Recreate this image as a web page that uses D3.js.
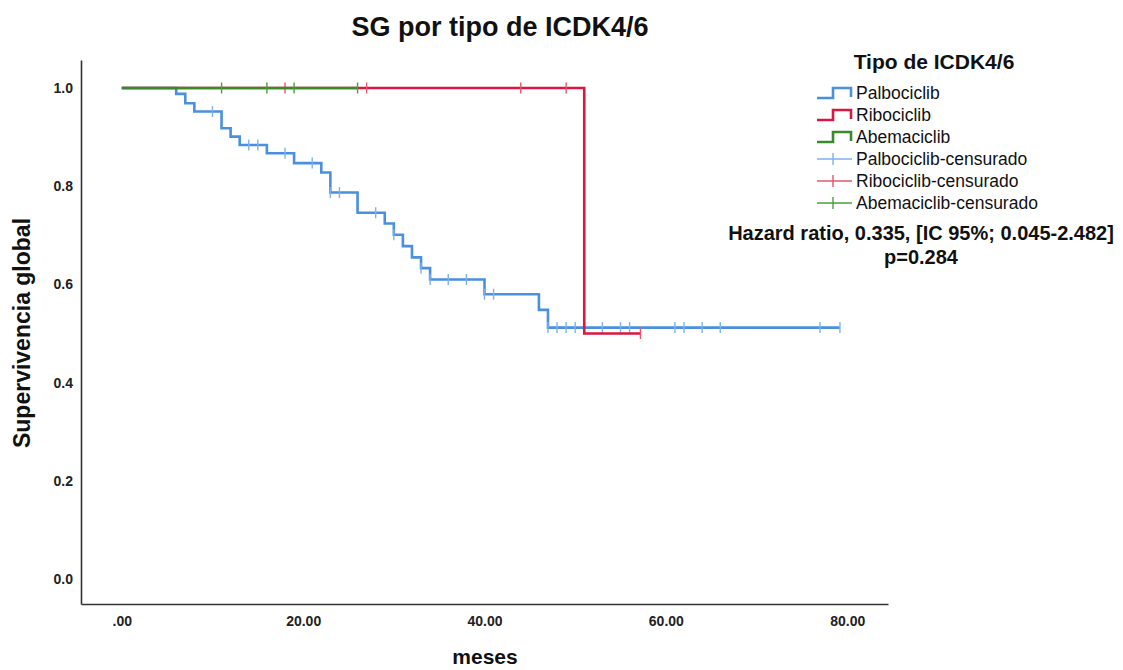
<!DOCTYPE html>
<html><head><meta charset="utf-8">
<script src="https://cdn.jsdelivr.net/npm/d3@7"></script>
<style>body{margin:0;background:#fff}svg{display:block}text{font-family:"Liberation Sans",Arial,sans-serif}</style>
</head><body>
<script>
// Step curves: times where survival drops and survival after drop
const palboTimes = [0, 6, 7, 8, 11, 12, 13, 16, 19, 22, 23, 26, 29, 30, 31, 32, 33, 34, 40, 46, 47];
const palboSurv  = [1.0, 0.988, 0.969, 0.952, 0.918, 0.901, 0.884, 0.867, 0.847, 0.828, 0.787, 0.746, 0.724, 0.701, 0.678, 0.655, 0.633, 0.610, 0.580, 0.548, 0.512];
const palboEnd = 79.2;
const palboCens = [10, 14, 15, 18, 21, 23, 24, 28, 30, 33, 34, 36, 38, 40, 41, 47, 48, 49, 50, 53, 55, 56, 61, 62, 64, 66, 77, 79.2];

const riboTimes = [0, 51];
const riboSurv  = [1.0, 0.5];
const riboEnd = 57.2;
const riboCens = [18, 27, 44, 49, 57.2];

const abemaTimes = [0];
const abemaSurv  = [1.0];
const abemaEnd = 26;
const abemaCens = [11, 16, 19, 26];

const xTicks = [0, 20, 40, 60, 80];
const yTicks = [0, 0.2, 0.4, 0.6, 0.8, 1.0];
const legendLabels = ["Palbociclib", "Ribociclib", "Abemaciclib", "Palbociclib-censurado", "Ribociclib-censurado", "Abemaciclib-censurado"];

const W = 1123, H = 670;
const svg = d3.select("body").append("svg").attr("width", W).attr("height", H);
const x = d3.scaleLinear().domain([-4.5, 84.5]).range([81, 888]);
const y = d3.scaleLinear().domain([-0.051, 1.057]).range([604, 60]);

const series = [
  {times: palboTimes, surv: palboSurv, end: palboEnd, cens: palboCens, color: "#4a8fe0", cColor: "#7fb1ee"},
  {times: riboTimes, surv: riboSurv, end: riboEnd, cens: riboCens, color: "#d9173f", cColor: "#e2566f"},
  {times: abemaTimes, surv: abemaSurv, end: abemaEnd, cens: abemaCens, color: "#3a8a2c", cColor: "#4f9c43"}
];

function survAt(s, t) {
  let v = s.surv[0];
  for (let i = 0; i < s.times.length; i++) if (s.times[i] <= t + 1e-9) v = s.surv[i];
  return v;
}

const line = d3.line().x(d => x(d[0])).y(d => y(d[1])).curve(d3.curveStepAfter);

series.forEach(s => {
  const pts = s.times.map((t, i) => [t, s.surv[i]]);
  pts.push([s.end, s.surv[s.surv.length - 1]]);
  svg.append("path").datum(pts).attr("d", line)
    .attr("fill", "none").attr("stroke", s.color).attr("stroke-width", 2.6);
  svg.append("g").selectAll("line").data(s.cens).join("line")
    .attr("x1", d => x(d)).attr("x2", d => x(d))
    .attr("y1", d => y(survAt(s, d)) - 5.5).attr("y2", d => y(survAt(s, d)) + 5.5)
    .attr("stroke", s.cColor).attr("stroke-width", 1.4);
});

// Axes
const xAxis = d3.axisBottom(x).tickValues(xTicks).tickSize(0).tickPadding(12)
  .tickFormat(d => d === 0 ? ".00" : d3.format(".2f")(d));
const gx = svg.append("g").attr("transform", "translate(0,604)").call(xAxis);
gx.select(".domain").attr("stroke", "#333").attr("stroke-width", 1.6);
gx.selectAll("text").attr("font-size", 14).attr("font-weight", "bold").attr("fill", "#222")
  .style("font-family", '"Liberation Sans", Arial, sans-serif');

const yAxis = d3.axisLeft(y).tickValues(yTicks).tickSize(0).tickPadding(8).tickFormat(d3.format(".1f"));
const gy = svg.append("g").attr("transform", "translate(81,0)").call(yAxis);
gy.select(".domain").attr("stroke", "#333").attr("stroke-width", 1.6);
gy.selectAll("text").attr("font-size", 14).attr("font-weight", "bold").attr("fill", "#222")
  .style("font-family", '"Liberation Sans", Arial, sans-serif');

// Titles
svg.append("text").attr("x", 500).attr("y", 36).attr("text-anchor", "middle")
  .attr("font-size", 27).attr("font-weight", "bold").attr("fill", "#111").text("SG por tipo de ICDK4/6");
svg.append("text").attr("x", 485).attr("y", 664).attr("text-anchor", "middle")
  .attr("font-size", 21).attr("font-weight", "bold").attr("fill", "#111").text("meses");
svg.append("text").attr("transform", "translate(30,333) rotate(-90)").attr("text-anchor", "middle")
  .attr("font-size", 23).attr("font-weight", "bold").attr("fill", "#111").text("Supervivencia global");

// Legend
svg.append("text").attr("x", 934).attr("y", 69).attr("text-anchor", "middle")
  .attr("font-size", 21).attr("font-weight", "bold").attr("fill", "#111").text("Tipo de ICDK4/6");
const lg = svg.append("g");
legendLabels.forEach((lab, i) => {
  const cy = 93 + i * 22;
  const s = series[i % 3];
  if (i < 3) {
    lg.append("path").attr("d", `M817,${cy + 5}H833V${cy - 5}H851V${cy + 4}`)
      .attr("fill", "none").attr("stroke", s.color).attr("stroke-width", 2.6);
  } else {
    lg.append("line").attr("x1", 817).attr("x2", 852).attr("y1", cy).attr("y2", cy)
      .attr("stroke", s.cColor).attr("stroke-width", 1.4);
    lg.append("line").attr("x1", 833).attr("x2", 833).attr("y1", cy - 6).attr("y2", cy + 6)
      .attr("stroke", s.cColor).attr("stroke-width", 1.4);
  }
  lg.append("text").attr("x", 856).attr("y", cy + 6).attr("font-size", 17.5).attr("fill", "#111").text(lab);
});

svg.append("text").attr("x", 921).attr("y", 240).attr("text-anchor", "middle")
  .attr("font-size", 20).attr("font-weight", "bold").attr("fill", "#111")
  .text("Hazard ratio, 0.335, [IC 95%; 0.045-2.482]");
svg.append("text").attr("x", 921).attr("y", 264).attr("text-anchor", "middle")
  .attr("font-size", 20).attr("font-weight", "bold").attr("fill", "#111").text("p=0.284");
</script>
</body></html>
